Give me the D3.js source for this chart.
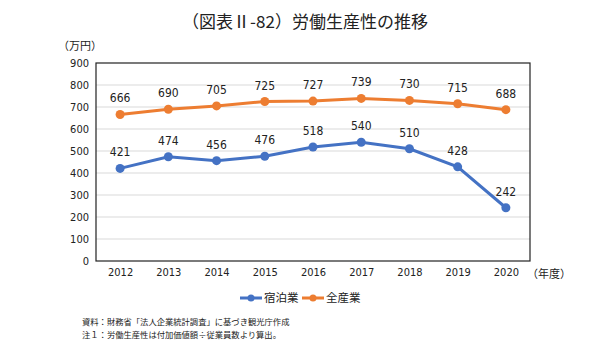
<!DOCTYPE html>
<html><head><meta charset="utf-8">
<script src="https://cdn.jsdelivr.net/npm/d3@7"></script>
<style>
body{margin:0;background:#fff;}
text{font-family:"Noto Sans CJK JP",sans-serif;}
.num{font-family:"Liberation Sans Narrow","DejaVu Sans Condensed","Noto Sans CJK JP",sans-serif;font-stretch:condensed;}
</style></head>
<body><svg id="c" width="610" height="342"></svg>
<script>
const years = ["2012","2013","2014","2015","2016","2017","2018","2019","2020"];
const shukuhaku = [421,474,456,476,518,540,510,428,242];
const zensangyo = [666,690,705,725,727,739,730,715,688];
const yTicks = [0,100,200,300,400,500,600,700,800,900];
const seriesNames = ["宿泊業","全産業"];
const colors = ["#4472C4","#ED7D31"];

const svg = d3.select("#c");
const m = {l:96, r:530, t:63, b:261};
const x = d3.scalePoint().domain(years).range([m.l,m.r]).padding(0.5);
const y = d3.scaleLinear().domain([0,900]).range([m.b,m.t]);

svg.append("text").attr("x",305).attr("y",28).attr("text-anchor","middle")
  .attr("font-size",17).attr("fill","#222").text("（図表Ⅱ-82）労働生産性の推移");
svg.append("text").attr("x",58).attr("y",50).attr("font-size",11).attr("fill","#222").text("（万円）");

// grid
svg.append("g").selectAll("line").data(yTicks.filter(d=>d>0&&d<900)).join("line")
  .attr("x1",m.l).attr("x2",m.r).attr("y1",d=>y(d)).attr("y2",d=>y(d))
  .attr("stroke","#d9d9d9").attr("stroke-width",1);
svg.append("rect").attr("x",m.l).attr("y",m.t).attr("width",m.r-m.l).attr("height",m.b-m.t)
  .attr("fill","none").attr("stroke","#222").attr("stroke-width",1.2);

const ya = svg.append("g").attr("transform",`translate(${m.l},0)`)
  .call(d3.axisLeft(y).tickValues(yTicks).tickSize(0).tickPadding(7));
ya.select(".domain").remove();
ya.selectAll("text").attr("class","num").attr("font-size",11).attr("fill","#222");

const xa = svg.append("g").attr("transform",`translate(0,${m.b})`)
  .call(d3.axisBottom(x).tickSize(0).tickPadding(7));
xa.select(".domain").remove();
xa.selectAll("text").attr("class","num").attr("font-size",11).attr("fill","#222");
svg.append("text").attr("x",527).attr("y",278).attr("font-size",11).attr("fill","#222").text("（年度）");

const line = d3.line().x((d,i)=>x(years[i])).y(d=>y(d));
[shukuhaku,zensangyo].forEach((s,k)=>{
  const g = svg.append("g");
  g.append("path").datum(s).attr("d",line).attr("fill","none").attr("stroke",colors[k]).attr("stroke-width",3);
  g.selectAll("circle").data(s).join("circle").attr("cx",(d,i)=>x(years[i])).attr("cy",d=>y(d))
    .attr("r",4.5).attr("fill",colors[k]);
  g.selectAll("text").data(s).join("text").attr("class","num")
    .attr("x",(d,i)=>x(years[i])).attr("y",d=>y(d)-12).attr("text-anchor","middle")
    .attr("font-size",12).attr("fill","#222").text(d=>d);
});

// legend
const lg = svg.append("g");
const lx = [251, 313];
seriesNames.forEach((n,k)=>{
  lg.append("line").attr("x1",lx[k]-11).attr("x2",lx[k]+11).attr("y1",298).attr("y2",298)
    .attr("stroke",colors[k]).attr("stroke-width",3);
  lg.append("circle").attr("cx",lx[k]).attr("cy",298).attr("r",3.5).attr("fill",colors[k]);
  lg.append("text").attr("x",lx[k]+13).attr("y",302).attr("font-size",11.5).attr("fill","#222").text(n);
});

svg.append("text").attr("x",82).attr("y",325).attr("font-size",8.3).attr("fill","#222")
  .text("資料：財務省「法人企業統計調査」に基づき観光庁作成");
svg.append("text").attr("x",82).attr("y",338).attr("font-size",8.3).attr("fill","#222")
  .text("注１：労働生産性は付加価値額÷従業員数より算出。");
</script></body></html>
